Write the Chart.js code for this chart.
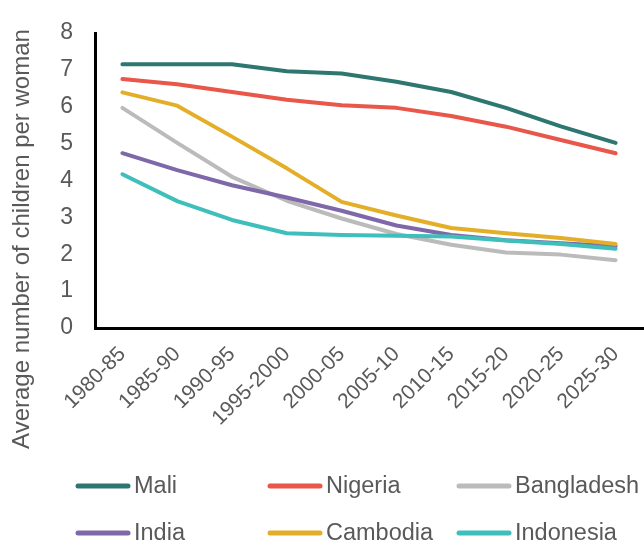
<!DOCTYPE html>
<html>
<head>
<meta charset="utf-8">
<script src="https://cdn.jsdelivr.net/npm/chart.js@4"></script>
<style>
  html, body { margin: 0; padding: 0; background: #fff; }
  #wrap { position: relative; width: 644px; height: 541px; }
</style>
</head>
<body>
<div id="wrap"><canvas id="chart" width="644" height="541"></canvas></div>
<script>
const periods = ['1980-85', '1985-90', '1990-95', '1995-2000', '2000-05', '2005-10', '2010-15', '2015-20', '2020-25', '2025-30'];
const countries = ['Mali', 'Nigeria', 'Bangladesh', 'India', 'Cambodia', 'Indonesia'];
const colours = ['#2e7771', '#e8574a', '#bbbbbb', '#7e68a9', '#e3ae28', '#3fbfbb'];

const mali       = [7.15, 7.15, 7.15, 6.96, 6.90, 6.68, 6.40, 5.97, 5.47, 5.02];
const nigeria    = [6.75, 6.61, 6.40, 6.19, 6.04, 5.97, 5.75, 5.46, 5.10, 4.74];
const bangladesh = [5.97, 5.02, 4.10, 3.45, 2.97, 2.55, 2.26, 2.05, 1.99, 1.84];
const india      = [4.74, 4.28, 3.87, 3.54, 3.18, 2.78, 2.52, 2.38, 2.30, 2.22];
const cambodia   = [6.39, 6.03, 5.19, 4.33, 3.42, 3.05, 2.71, 2.57, 2.44, 2.28];
const indonesia  = [4.17, 3.44, 2.93, 2.57, 2.52, 2.50, 2.48, 2.37, 2.28, 2.15];
const yTitle = 'Average number of children per woman';

const series = [mali, nigeria, bangladesh, india, cambodia, indonesia];
const textGrey = '#595959';
const fontFam = '"Liberation Sans", Arial, sans-serif';

// y title centred lower than the plot (as in the original), plus a 3-column legend
const extras = {
  id: 'extras',
  afterDraw(chart) {
    const ctx = chart.ctx;
    ctx.save();
    ctx.fillStyle = textGrey;
    ctx.font = '24px ' + fontFam;
    ctx.textAlign = 'center';
    ctx.textBaseline = 'middle';
    ctx.translate(22, 239);
    ctx.rotate(-Math.PI / 2);
    ctx.fillText(yTitle, 0, 0);
    ctx.restore();

    const colX = [76, 268, 457];
    const rowY = [486, 533];
    ctx.save();
    ctx.font = '23.5px ' + fontFam;
    ctx.textBaseline = 'middle';
    ctx.textAlign = 'left';
    countries.forEach((name, i) => {
      const x = colX[i % 3], y = rowY[Math.floor(i / 3)];
      ctx.strokeStyle = colours[i];
      ctx.lineWidth = 5;
      ctx.lineCap = 'round';
      ctx.beginPath();
      ctx.moveTo(x + 2, y);
      ctx.lineTo(x + 52, y);
      ctx.stroke();
      ctx.fillStyle = textGrey;
      ctx.fillText(name, x + 58, y + 1);
    });
    ctx.restore();
  }
};

new Chart(document.getElementById('chart'), {
  type: 'line',
  data: {
    labels: periods,
    datasets: countries.map((name, i) => ({
      label: name,
      data: series[i],
      borderColor: colours[i],
      backgroundColor: colours[i],
      borderWidth: 4,
      borderCapStyle: 'round',
      borderJoinStyle: 'round',
      pointRadius: 0,
      tension: 0,
      order: -i
    }))
  },
  options: {
    responsive: false,
    animation: false,
    layout: { padding: { left: 0, top: 33, right: 1, bottom: 113 } },
    plugins: { legend: { display: false }, tooltip: { enabled: false } },
    scales: {
      x: {
        offset: true,
        grid: { display: false, drawTicks: false },
        border: { display: true, color: '#000', width: 3 },
        ticks: {
          color: textGrey,
          font: { family: fontFam, size: 21 },
          minRotation: 45,
          maxRotation: 45,
          padding: 14,
          labelOffset: 0,
          autoSkip: false
        },
        afterFit(scale) {
          scale.height = 100;
          scale.paddingLeft = 0;
          scale.paddingRight = 0;
        }
      },
      y: {
        min: 0,
        max: 8,
        grid: { display: false, drawTicks: false },
        border: { display: true, color: '#000', width: 3 },
        ticks: {
          stepSize: 1,
          color: textGrey,
          font: { family: fontFam, size: 23 },
          padding: 22
        },
        afterFit(scale) {
          scale.width = 95;
          scale.paddingTop = 0;
          scale.paddingBottom = 0;
        }
      }
    }
  },
  plugins: [extras]
});
</script>
</body>
</html>
